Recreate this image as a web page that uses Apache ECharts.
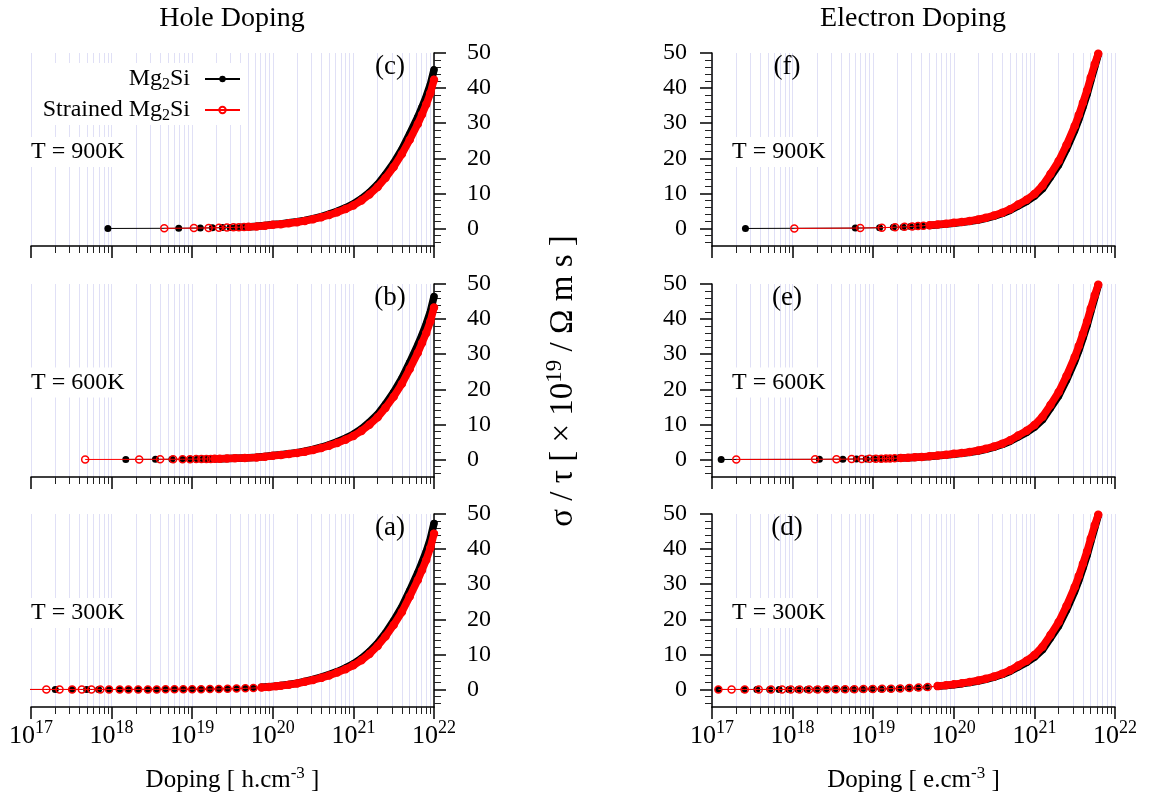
<!DOCTYPE html>
<html><head><meta charset="utf-8">
<script src="https://cdn.jsdelivr.net/npm/echarts@6/dist/echarts.min.js"></script>
<style>html,body{margin:0;padding:0;background:#fff}#c{width:1152px;height:801px}</style>
</head><body><div id="c"></div>
<script>
// ---------- texts / ticks ----------
const columnTitles = ['Hole Doping', 'Electron Doping'];
const panelLetters = ['(c)', '(b)', '(a)', '(f)', '(e)', '(d)'];
const tempLabels = ['T = 900K', 'T = 600K', 'T = 300K', 'T = 900K', 'T = 600K', 'T = 300K'];
const seriesNames = ['Mg2Si', 'Strained Mg2Si'];
const yMajorTicks = [0, 10, 20, 30, 40, 50];
const yMinorTicks = [-4, -2, 2, 4, 6, 8, 12, 14, 16, 18, 22, 24, 26, 28, 32, 34, 36, 38, 42, 44, 46, 48];
const xNames = ['h.cm', 'e.cm'];

// ---------- data: [doping (cm^-3), sigma/tau (1e19 / Ohm m s)] ----------
// Hole doping, T = 900K  (c)
const holeMg2Si900 = [[9e17,0],[6.8e18,0.05],[1.26e19,0.12],[1.78e19,0.18],[2.37e19,0.24],[2.95e19,0.3],[3.5e19,0.35],[4.1e19,0.4],[4.7e19,0.45],[5.3e19,0.5],
 [6.3e19,0.6],[8e19,0.85],[1e20,1.1],[1.26e20,1.3],[1.58e20,1.6],[2e20,1.9],[2.5e20,2.3],[3.16e20,2.8],[4e20,3.4],[5e20,4.1],[6.3e20,4.9],[8e20,5.9],
 [1e21,7.0],[1.26e21,8.5],[1.58e21,10.3],[2e21,12.6],[2.5e21,15.4],[3.16e21,18.7],[4e21,22.6],[5e21,27.0],[6.3e21,31.8],[7.1e21,34.6],[8e21,37.6],[9e21,41.0],[1e22,45.2]];
const holeStrained900 = [[4.5e18,0.03],[1.05e19,0.1],[1.6e19,0.16],[2.15e19,0.21],[2.7e19,0.26],[3.25e19,0.31],[3.8e19,0.36],[4.4e19,0.41],[5e19,0.46],
 [6.3e19,0.56],[8e19,0.8],[1e20,1.03],[1.26e20,1.22],[1.58e20,1.5],[2e20,1.78],[2.5e20,2.15],[3.16e20,2.63],[4e20,3.19],[5e20,3.85],[6.3e20,4.6],[8e20,5.53],
 [1e21,6.57],[1.26e21,7.97],[1.58e21,9.66],[2e21,11.8],[2.5e21,14.4],[3.16e21,17.5],[4e21,21.2],[5e21,25.3],[6.3e21,29.8],[7.1e21,32.5],[8e21,35.3],[9e21,38.5],[1e22,42.4]];
// Hole doping, T = 600K  (b)
const holeMg2Si600 = [[1.5e18,0.01],[3.5e18,0.03],[5.6e18,0.05],[7.6e18,0.07],[9.6e18,0.09],[1.16e19,0.11],[1.36e19,0.13],[1.56e19,0.15],[1.76e19,0.17],[1.96e19,0.19],
 [2.3e19,0.22],[2.8e19,0.27],[3.5e19,0.34],[4.5e19,0.43],[6.3e19,0.6],[8e19,0.85],[1e20,1.1],[1.26e20,1.32],[1.58e20,1.63],[2e20,1.94],[2.5e20,2.35],[3.16e20,2.87],
 [4e20,3.49],[5e20,4.2],[6.3e20,5.03],[8e20,6.06],[1e21,7.19],[1.26e21,8.73],[1.58e21,10.6],[2e21,12.9],[2.5e21,15.8],[3.16e21,19.2],[4e21,23.2],[5e21,27.7],
 [6.3e21,32.7],[7.1e21,35.5],[8e21,38.6],[9e21,42.1],[1e22,46.4]];
const holeStrained600 = [[4.7e17,0],[2.2e18,0.02],[4e18,0.04],[5.8e18,0.05],[7.6e18,0.07],[9.4e18,0.09],[1.12e19,0.1],[1.3e19,0.12],[1.5e19,0.14],[1.7e19,0.16],[1.9e19,0.18],
 [2.2e19,0.2],[2.7e19,0.25],[3.4e19,0.31],[4.5e19,0.41],[6.3e19,0.56],[8e19,0.8],[1e20,1.03],[1.26e20,1.24],[1.58e20,1.53],[2e20,1.82],[2.5e20,2.2],[3.16e20,2.69],
 [4e20,3.26],[5e20,3.93],[6.3e20,4.7],[8e20,5.65],[1e21,6.71],[1.26e21,8.14],[1.58e21,9.87],[2e21,12.0],[2.5e21,14.7],[3.16e21,17.9],[4e21,21.6],[5e21,25.8],
 [6.3e21,30.4],[7.1e21,33.2],[8e21,36.0],[9e21,39.3],[1e22,43.3]];
// Hole doping, T = 300K  (a)
const holeMg2Si300 = [[8e16,0],[2e17,0],[3.24e17,0],[4.9e17,0],[6.9e17,0],[9.3e17,0],[1.26e18,0],[1.62e18,0.01],[2.14e18,0.01],[2.82e18,0.02],[3.63e18,0.02],[4.68e18,0.03],
 [6.03e18,0.04],[7.76e18,0.05],[1e19,0.07],[1.29e19,0.09],[1.66e19,0.12],[2.14e19,0.15],[2.75e19,0.2],[3.55e19,0.26],[4.57e19,0.34],[5.75e19,0.43],
 [7.24e19,0.6],[8.9e19,0.75],[1.1e20,0.95],[1.26e20,1.1],[1.58e20,1.4],[2e20,1.8],[2.5e20,2.3],[3.16e20,2.85],[4e20,3.5],[5e20,4.25],[6.3e20,5.1],[8e20,6.15],
 [1e21,7.32],[1.26e21,8.89],[1.58e21,10.8],[2e21,13.2],[2.5e21,16.1],[3.16e21,19.6],[4e21,23.6],[5e21,28.2],[6.3e21,33.3],[7.1e21,36.2],[8e21,39.3],[9e21,42.9],[1e22,47.3]];
const holeStrained300 = [[8e16,0],[1.55e17,0],[2.26e17,0],[3.24e17,0],[4.27e17,0],[5.62e17,0],[7.24e17,0],[9.3e17,0],[1.26e18,0],[1.62e18,0.01],[2.14e18,0.01],[2.82e18,0.02],
 [3.63e18,0.02],[4.68e18,0.03],[6.03e18,0.04],[7.76e18,0.05],[1e19,0.07],[1.29e19,0.09],[1.66e19,0.11],[2.14e19,0.14],[2.75e19,0.19],[3.55e19,0.25],[4.57e19,0.32],
 [5.75e19,0.41],[7.24e19,0.56],[8.9e19,0.7],[1.1e20,0.9],[1.26e20,1.05],[1.58e20,1.33],[2e20,1.7],[2.5e20,2.17],[3.16e20,2.7],[4e20,3.3],[5e20,4.0],[6.3e20,4.82],
 [8e20,5.79],[1e21,6.87],[1.26e21,8.34],[1.58e21,10.1],[2e21,12.4],[2.5e21,15.1],[3.16e21,18.4],[4e21,22.1],[5e21,26.5],[6.3e21,31.2],[7.1e21,34.0],[8e21,36.9],[9e21,40.3],[1e22,44.4]];
// Electron doping, T = 900K  (f)
const elecMg2Si900 = [[2.6e17,0],[6e18,0.1],[1.2e19,0.2],[1.78e19,0.31],[2.35e19,0.42],[2.9e19,0.53],[3.5e19,0.63],[4.1e19,0.73],
 [5e19,0.85],[6.3e19,1.05],[8e19,1.25],[1e20,1.5],[1.26e20,1.75],[1.58e20,2.05],[2e20,2.4],[2.5e20,2.9],[3.16e20,3.5],[4e20,4.25],[5e20,5.2],[6.3e20,6.4],[8e20,7.7],
 [1e21,9.2],[1.26e21,11.3],[1.58e21,14.6],[2e21,18.1],[2.5e21,22.6],[3.16e21,27.9],[3.55e21,31.0],[4e21,34.5],[4.5e21,38.2],[5e21,42.0],[5.6e21,46.0],[6.2e21,49.6]];
const elecStrained900 = [[1.05e18,0.01],[6.9e18,0.12],[1.28e19,0.23],[1.87e19,0.35],[2.45e19,0.46],[3.05e19,0.58],[3.6e19,0.7],[4.2e19,0.8],
 [5e19,0.92],[6.3e19,1.12],[8e19,1.35],[1e20,1.6],[1.26e20,1.85],[1.58e20,2.15],[2e20,2.55],[2.5e20,3.05],[3.16e20,3.7],[4e20,4.5],[5e20,5.5],[6.3e20,6.8],[8e20,8.2],
 [1e21,9.8],[1.26e21,12.2],[1.58e21,15.5],[2e21,19.2],[2.5e21,23.8],[3.16e21,29.2],[3.55e21,32.3],[4e21,35.8],[4.5e21,39.4],[5e21,43.0],[5.6e21,46.8],[6.2e21,49.8]];
// Electron doping, T = 600K  (e)
const elecMg2Si600 = [[1.3e17,0],[2.15e18,0.04],[4.2e18,0.08],[6.2e18,0.12],[8.2e18,0.16],[1.02e19,0.19],[1.22e19,0.22],[1.42e19,0.26],[1.62e19,0.3],[1.82e19,0.33],
 [2.1e19,0.38],[2.6e19,0.48],[3.2e19,0.58],[4e19,0.72],[5e19,0.85],[6.3e19,1.05],[8e19,1.25],[1e20,1.5],[1.26e20,1.75],[1.58e20,2.05],[2e20,2.4],[2.5e20,2.9],[3.16e20,3.5],
 [4e20,4.25],[5e20,5.2],[6.3e20,6.4],[8e20,7.7],[1e21,9.2],[1.26e21,11.3],[1.58e21,14.6],[2e21,18.1],[2.5e21,22.6],[3.16e21,27.9],[3.55e21,31.0],[4e21,34.5],
 [4.5e21,38.2],[5e21,42.0],[5.6e21,46.0],[6.2e21,49.6]];
const elecStrained600 = [[2e17,0],[1.9e18,0.04],[3.5e18,0.07],[5.4e18,0.1],[7.2e18,0.14],[9e18,0.17],[1.08e19,0.2],[1.26e19,0.23],[1.44e19,0.27],[1.62e19,0.3],[1.85e19,0.34],
 [2.2e19,0.4],[2.7e19,0.5],[3.3e19,0.6],[4e19,0.73],[5e19,0.92],[6.3e19,1.12],[8e19,1.35],[1e20,1.6],[1.26e20,1.85],[1.58e20,2.15],[2e20,2.55],[2.5e20,3.05],[3.16e20,3.7],
 [4e20,4.5],[5e20,5.5],[6.3e20,6.8],[8e20,8.2],[1e21,9.8],[1.26e21,12.2],[1.58e21,15.5],[2e21,19.2],[2.5e21,23.8],[3.16e21,29.2],[3.55e21,32.3],[4e21,35.8],
 [4.5e21,39.4],[5e21,43.0],[5.6e21,46.8],[6.2e21,49.8]];
// Electron doping, T = 300K  (d)
const elecMg2Si300 = [[1.2e17,0],[2.5e17,0],[3.6e17,0],[5.2e17,0],[6.8e17,0],[9e17,0],[1.17e18,0.01],[1.52e18,0.01],[1.98e18,0.02],[2.58e18,0.03],[3.35e18,0.04],
 [4.36e18,0.05],[5.67e18,0.07],[7.37e18,0.09],[9.6e18,0.12],[1.25e19,0.16],[1.62e19,0.21],[2.1e19,0.28],[2.74e19,0.38],[3.56e19,0.5],[4.6e19,0.66],
 [6.3e19,0.9],[8e19,1.1],[1e20,1.35],[1.26e20,1.65],[1.58e20,2.0],[2e20,2.4],[2.5e20,2.9],[3.16e20,3.5],[4e20,4.25],[5e20,5.2],[6.3e20,6.4],[8e20,7.7],
 [1e21,9.2],[1.26e21,11.3],[1.58e21,14.6],[2e21,18.1],[2.5e21,22.6],[3.16e21,27.9],[3.55e21,31.0],[4e21,34.5],[4.5e21,38.2],[5e21,42.0],[5.6e21,46.0],[6.2e21,49.6]];
const elecStrained300 = [[1.2e17,0],[1.75e17,0],[2.55e17,0],[3.8e17,0],[5.4e17,0],[7.4e17,0],[9.5e17,0.01],[1.22e18,0.01],[1.6e18,0.02],[2.05e18,0.02],[2.65e18,0.03],
 [3.45e18,0.04],[4.5e18,0.06],[5.85e18,0.08],[7.6e18,0.1],[9.9e18,0.13],[1.29e19,0.17],[1.67e19,0.23],[2.17e19,0.3],[2.82e19,0.4],[3.66e19,0.53],[4.75e19,0.7],
 [6.3e19,0.95],[8e19,1.18],[1e20,1.45],[1.26e20,1.8],[1.58e20,2.15],[2e20,2.55],[2.5e20,3.05],[3.16e20,3.7],[4e20,4.5],[5e20,5.5],[6.3e20,6.8],[8e20,8.2],
 [1e21,9.8],[1.26e21,12.2],[1.58e21,15.5],[2e21,19.2],[2.5e21,23.8],[3.16e21,29.2],[3.55e21,32.3],[4e21,35.8],[4.5e21,39.4],[5e21,43.0],[5.6e21,46.8],[6.2e21,49.8]];

// dense-marker region starts here (markers merge into a continuous band)
const bandStart = [5e19, 1.9e19, 6.3e19, 5e19, 1.9e19, 6.3e19];

const panels = [
  [holeMg2Si900, holeStrained900], [holeMg2Si600, holeStrained600], [holeMg2Si300, holeStrained300],
  [elecMg2Si900, elecStrained900], [elecMg2Si600, elecStrained600], [elecMg2Si300, elecStrained300]
];

// ---------- layout ----------
const FONT = 'Liberation Serif';
const gridTops = [53, 284, 514];
const gridLefts = [31, 712];
const gridW = 403, gridH = 193;

const grids = [], xAxes = [], yAxes = [], series = [];
const supRich = {
  b: {fontFamily: FONT, fontSize: 26, color: '#000', lineHeight: 34},
  s: {fontFamily: FONT, fontSize: 18, color: '#000', lineHeight: 16, verticalAlign: 'top'}
};
for (let c = 0; c < 2; c++) {
  for (let r = 0; r < 3; r++) {
    const i = c * 3 + r;
    const isBottom = r === 2;
    const pos = c === 0 ? 'right' : 'left';
    grids.push({left: gridLefts[c], top: gridTops[r], width: gridW, height: gridH, outerBoundsMode: 'none', containLabel: false});
    xAxes.push({
      type: 'log', logBase: 10, gridIndex: i, min: 1e17, max: 1e22,
      axisLine: {show: true, onZero: false, lineStyle: {color: '#000', width: 1.5}},
      axisTick: {show: true, length: 12, inside: false, lineStyle: {color: '#000', width: 1.5}},
      minorTick: {show: true, splitNumber: 9, length: 7, lineStyle: {color: '#222', width: 1}},
      splitLine: {show: true, lineStyle: {color: '#e0e0f6', width: 1}},
      minorSplitLine: {show: true, lineStyle: {color: '#e0e0f6', width: 1}},
      axisLabel: {
        show: isBottom, margin: 12, color: '#000',
        formatter: v => '{b|10}{s|' + Math.round(Math.log10(v)) + '}',
        rich: supRich
      },
      name: isBottom ? '{a|Doping [ ' + xNames[c] + '}{s|-3}{a| ]}' : '',
      nameLocation: 'middle', nameGap: 58,
      nameTextStyle: {rich: {
        a: {fontFamily: FONT, fontSize: 25, color: '#000', lineHeight: 30},
        s: {fontFamily: FONT, fontSize: 17, color: '#000', lineHeight: 14, verticalAlign: 'top'}
      }}
    });
    yAxes.push({
      type: 'value', gridIndex: i, position: pos, min: -5, max: 50,
      axisLine: {show: true, onZero: false, lineStyle: {color: '#000', width: 1.5}},
      axisTick: {show: true, length: 12, customValues: yMajorTicks, lineStyle: {color: '#000', width: 1.5}},
      axisLabel: {show: true, customValues: yMajorTicks, margin: c === 0 ? 33 : 25, color: '#000',
        fontFamily: FONT, fontSize: 24,
        formatter: v => '{n|' + v + '}',
        rich: {n: {fontFamily: FONT, fontSize: 24, color: '#000'}}},
      splitLine: {show: false}
    });
    yAxes.push({
      type: 'value', gridIndex: i, position: pos, min: -5, max: 50,
      axisLine: {show: false, onZero: false},
      axisTick: {show: true, length: 7, customValues: yMinorTicks, lineStyle: {color: '#222', width: 1}},
      axisLabel: {show: false},
      splitLine: {show: false}
    });
    const [blk, red] = panels[i];
    const band = d => d.filter(p => p[0] >= bandStart[i]);
    series.push({
      type: 'line', name: 'band-black', xAxisIndex: i, yAxisIndex: 2 * i, data: band(blk),
      symbol: 'none', silent: true, z: 3, lineStyle: {color: '#000', width: 7.5, cap: 'round', join: 'round'}
    });
    series.push({
      type: 'line', name: seriesNames[0], xAxisIndex: i, yAxisIndex: 2 * i, data: blk, z: 4,
      symbol: 'circle', symbolSize: 7, itemStyle: {color: '#000'}, lineStyle: {color: '#000', width: 1}
    });
    series.push({
      type: 'line', name: 'band-red', xAxisIndex: i, yAxisIndex: 2 * i, data: band(red),
      symbol: 'none', silent: true, z: 5, lineStyle: {color: '#f00', width: 7.5, cap: 'round', join: 'round'}
    });
    series.push({
      type: 'line', name: seriesNames[1], xAxisIndex: i, yAxisIndex: 2 * i, data: red, z: 6,
      symbol: 'circle', symbolSize: 7,
      itemStyle: {color: 'rgba(255,0,0,0)', borderColor: '#f00', borderWidth: 1.5},
      lineStyle: {color: '#f00', width: 1}
    });
  }
}

const graphics = [];
const txt = (x, y, text, size, align, extra) => ({
  type: 'text', x: x, y: y, silent: true, z: 10,
  style: Object.assign({text: text, fontFamily: FONT, fontSize: size, fill: '#000', align: align, verticalAlign: 'middle'}, extra || {})
});
graphics.push(txt(232, 19, columnTitles[0], 28, 'center'));
graphics.push(txt(913, 19, columnTitles[1], 28, 'center'));
// white box behind the legend
graphics.push({type: 'rect', silent: true, z: 1, shape: {x: 32, y: 63, width: 212, height: 62}, style: {fill: '#fff'}});
const letterX = [390, 390, 390, 787, 787, 787];
const tempX = [31, 31, 31, 732, 732, 732];
const rowY = [0, 230.5, 461];
for (let i = 0; i < 6; i++) {
  graphics.push(txt(letterX[i], 67 + rowY[i % 3], panelLetters[i], 27, 'center'));
  graphics.push(txt(tempX[i], 152 + rowY[i % 3], tempLabels[i], 24, 'left',
    {backgroundColor: '#fff', padding: [3, 3, 3, 0]}));
}
graphics.push({
  type: 'text', x: 563, y: 381, rotation: Math.PI / 2, silent: true,
  style: {
    text: '{a|σ / τ [ × 10}{s|19}{a| / Ω m s ]}',
    align: 'center', verticalAlign: 'middle',
    rich: {
      a: {fontFamily: FONT, fontSize: 33, fill: '#000', lineHeight: 40},
      s: {fontFamily: FONT, fontSize: 23, fill: '#000', lineHeight: 20, verticalAlign: 'top'}
    }
  }
});

const legendRich = {
  a: {fontFamily: FONT, fontSize: 24, color: '#000', lineHeight: 28},
  s: {fontFamily: FONT, fontSize: 16, color: '#000', lineHeight: 14, verticalAlign: 'bottom'}
};
const legendBase = {
  orient: 'vertical', align: 'right', itemWidth: 35, itemHeight: 8, padding: 0,
  selectedMode: false, z: 8,
  textStyle: {fontFamily: FONT, fontSize: 24, color: '#000', padding: [0, 10, 0, 0], rich: legendRich}
};

const chart = echarts.init(document.getElementById('c'), null, {renderer: 'canvas'});
chart.setOption({
  animation: false,
  backgroundColor: '#fff',
  textStyle: {fontFamily: FONT},
  grid: grids, xAxis: xAxes, yAxis: yAxes, series: series,
  legend: [
    Object.assign({}, legendBase, {data: [seriesNames[0]], right: 911, top: 67,
      formatter: () => '{a|Mg}{s|2}{a|Si}'}),
    Object.assign({}, legendBase, {data: [seriesNames[1]], right: 911, top: 98,
      formatter: () => '{a|Strained Mg}{s|2}{a|Si}'})
  ],
  graphic: graphics
});
</script></body></html>
